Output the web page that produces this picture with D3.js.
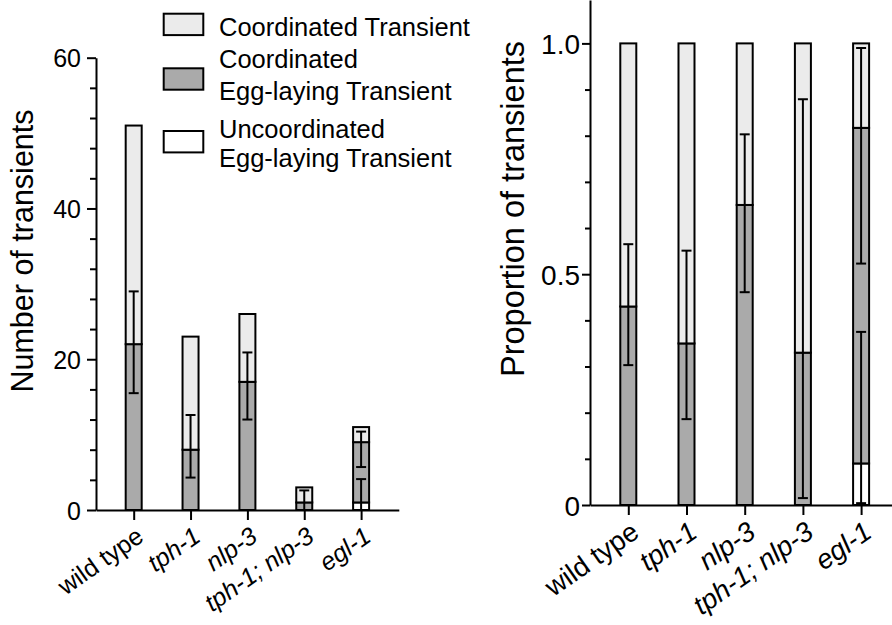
<!DOCTYPE html>
<html>
<head>
<meta charset="utf-8">
<script src="https://cdn.jsdelivr.net/npm/d3@7"></script>
<style>
  body { margin: 0; background: #fff; }
  svg { display: block; font-family: "Liberation Sans", Arial, Helvetica, sans-serif; }
</style>
</head>
<body>
<script>
// genotypes on both panels
var genotypes = ["wild type", "tph-1", "nlp-3", "tph-1; nlp-3", "egl-1"];
var italicLabel = [false, true, true, true, true];

// left panel: counts (stack tops)
var countUncoord = [0, 0, 0, 0, 1];
var countEggCoord = [22, 8, 17, 1, 8];
var countCoord = [29, 15, 9, 2, 2];
var countEggErr = [[15.5, 29], [4.3, 12.6], [12, 20.9], [0, 2.6], [5.7, 10.4]];
var countUncoordErr = [null, null, null, null, [0, 4.1]];

// right panel: proportions
var propUncoord = [0, 0, 0, 0, 0.09];
var propEggCoord = [0.43, 0.35, 0.65, 0.33, 0.727];
var propCoord = [0.57, 0.65, 0.35, 0.67, 0.183];
var propEggErr = [[0.303, 0.565], [0.186, 0.551], [0.461, 0.803], [0.015, 0.879], [0.523, 0.99]];
var propUncoordErr = [null, null, null, null, [0.004, 0.375]];

var legendLabels = [["Coordinated Transient"], ["Coordinated", "Egg-laying Transient"], ["Uncoordinated", "Egg-laying Transient"]];
var colors = { coord: "#ebebeb", egg: "#aaaaaa", uncoord: "#ffffff" };

var width = 892, height = 625;
var svg = d3.select("body").append("svg")
  .attr("width", width)
  .attr("height", height);

function stackRows(unc, egg, coo) {
  return genotypes.map(function (g, i) {
    return { g: g, uncoord: unc[i], egg: egg[i], coord: coo[i] };
  });
}

function drawPanel(opts) {
  var x = d3.scalePoint().domain(genotypes).range(opts.xRange).padding(opts.pad);
  var y = d3.scaleLinear().domain(opts.yDomain).range(opts.yRange);
  var g = svg.append("g");

  var series = d3.stack().keys(["uncoord", "egg", "coord"])(opts.rows);
  var bw = opts.barWidth;

  series.forEach(function (s) {
    g.selectAll(null).data(s).enter().append("rect")
      .attr("x", function (d) { return x(d.data.g) - bw / 2; })
      .attr("y", function (d) { return y(d[1]); })
      .attr("width", bw)
      .attr("height", function (d) { return Math.max(0, y(d[0]) - y(d[1])); })
      .style("fill", colors[s.key])
      .style("stroke", "#000")
      .style("stroke-width", 2)
      .style("display", function (d) { return d[1] - d[0] > 0 ? null : "none"; });
  });

  // error bars
  var errs = [];
  opts.errSets.forEach(function (set) {
    set.forEach(function (e, i) { if (e) errs.push({ g: genotypes[i], lo: e[0], hi: e[1] }); });
  });
  var cap = 5;
  var eb = g.selectAll(null).data(errs).enter().append("g")
    .style("stroke", "#000").style("stroke-width", 2);
  eb.append("line")
    .attr("x1", function (d) { return x(d.g); }).attr("x2", function (d) { return x(d.g); })
    .attr("y1", function (d) { return y(d.lo); }).attr("y2", function (d) { return y(d.hi); });
  eb.append("line")
    .attr("x1", function (d) { return x(d.g) - cap; }).attr("x2", function (d) { return x(d.g) + cap; })
    .attr("y1", function (d) { return y(d.hi); }).attr("y2", function (d) { return y(d.hi); });
  eb.append("line")
    .attr("x1", function (d) { return x(d.g) - cap; }).attr("x2", function (d) { return x(d.g) + cap; })
    .attr("y1", function (d) { return y(d.lo); }).attr("y2", function (d) { return y(d.lo); });

  // y axis
  var yAxis = g.append("g")
    .attr("transform", "translate(" + opts.xRange[0] + ",0)")
    .call(d3.axisLeft(y).tickValues(opts.minorTicks).tickSizeOuter(0).tickFormat(function (d) {
      return opts.majorTicks.indexOf(d) >= 0 ? opts.fmt(d) : "";
    }));
  yAxis.select(".domain").style("stroke-width", 2);
  yAxis.selectAll(".tick line")
    .style("stroke-width", 2)
    .attr("x2", function (d) { return opts.majorTicks.indexOf(d) >= 0 ? -opts.majorLen : -opts.minorLen; });
  yAxis.selectAll(".tick text")
    .attr("x", -opts.majorLen - opts.labelGap)
    .attr("dy", "0.36em")
    .style("font-size", opts.tickFont + "px")
    .style("font-family", "inherit")
    .style("fill", "#000");

  // x axis
  var xAxis = g.append("g")
    .attr("transform", "translate(0," + opts.yRange[0] + ")")
    .call(d3.axisBottom(x).tickSize(10).tickSizeOuter(0));
  xAxis.select(".domain").style("stroke-width", 2);
  xAxis.selectAll(".tick line").style("stroke-width", 2);
  xAxis.selectAll(".tick text")
    .attr("y", 0)
    .attr("dy", 0)
    .attr("transform", "translate(" + opts.xLab[0] + "," + opts.xLab[1] + ") rotate(-35)")
    .style("text-anchor", "end")
    .style("font-size", opts.xFont + "px")
    .style("font-family", "inherit")
    .style("font-style", function (d, i) { return italicLabel[i] ? "italic" : "normal"; })
    .style("fill", "#000");

  // y title
  g.append("text")
    .attr("transform", "translate(" + opts.titlePos[0] + "," + opts.titlePos[1] + ") rotate(-90)")
    .attr("text-anchor", "middle")
    .style("font-size", opts.titleFont + "px")
    .text(opts.title);
}

drawPanel({
  rows: stackRows(countUncoord, countEggCoord, countCoord),
  errSets: [countEggErr, countUncoordErr],
  xRange: [96, 398.8], pad: 0.663,
  yDomain: [0, 60], yRange: [510, 57.7],
  minorTicks: d3.range(0, 61, 4), majorTicks: [0, 20, 40, 60],
  fmt: d3.format("d"),
  majorLen: 9, minorLen: 6, labelGap: 6,
  tickFont: 25, xFont: 25, xLab: [11, 30],
  barWidth: 16,
  title: "Number of transients", titleFont: 30.5, titlePos: [33, 251]
});

drawPanel({
  rows: stackRows(propUncoord, propEggCoord, propCoord),
  errSets: [propEggErr, propUncoordErr],
  xRange: [590, 899.4], pad: 0.658,
  yDomain: [0, 1.094], yRange: [505, 0],
  minorTicks: d3.range(0, 11).map(function (i) { return i / 10; }), majorTicks: [0, 0.5, 1],
  fmt: function (d) { return d === 0 ? "0" : d3.format(".1f")(d); },
  majorLen: 8, minorLen: 5, labelGap: 2,
  tickFont: 28, xFont: 27.5, xLab: [12, 31],
  barWidth: 16,
  title: "Proportion of transients", titleFont: 32.5, titlePos: [524, 209]
});

// legend
var legendBoxY = [12.7, 67.3, 130];
var legendBaselines = [[36], [68, 100], [138, 167]];
var legendFills = [colors.coord, colors.egg, colors.uncoord];
var lg = svg.append("g");
lg.selectAll("rect").data(legendLabels).enter().append("rect")
  .attr("x", 163.7)
  .attr("y", function (d, i) { return legendBoxY[i] + 1; })
  .attr("width", 39.6)
  .attr("height", 21.4)
  .style("fill", function (d, i) { return legendFills[i]; })
  .style("stroke", "#000")
  .style("stroke-width", 2);
legendLabels.forEach(function (lines, i) {
  lines.forEach(function (t, j) {
    lg.append("text")
      .attr("x", 219)
      .attr("y", legendBaselines[i][j])
      .style("font-size", "25.5px")
      .text(t);
  });
});
</script>
</body>
</html>
